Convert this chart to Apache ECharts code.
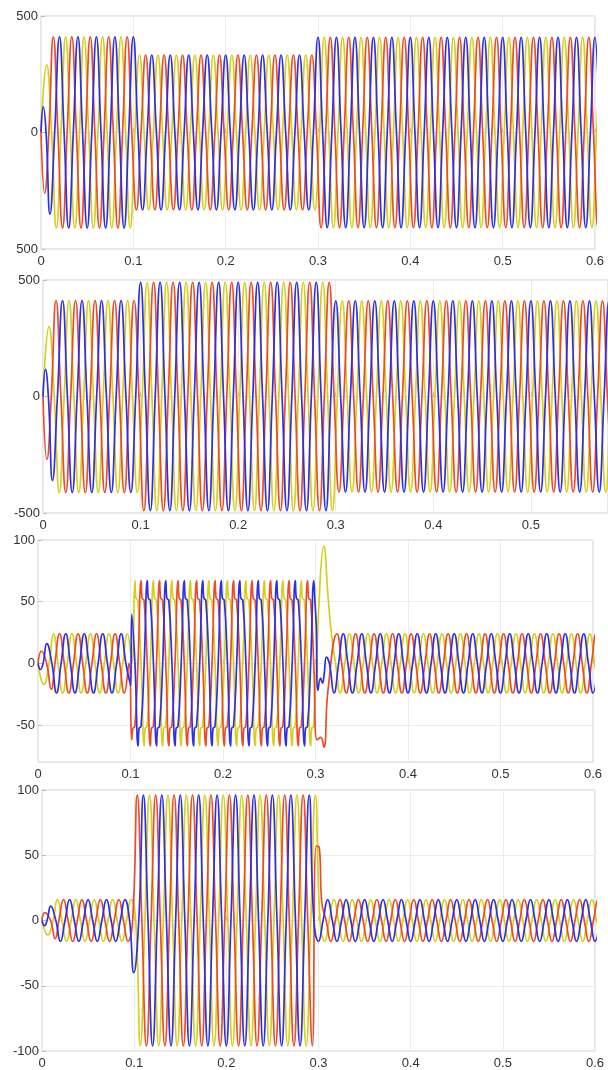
<!DOCTYPE html>
<html><head><meta charset="utf-8">
<script src="https://cdn.jsdelivr.net/npm/echarts@6/dist/echarts.min.js"></script>
<style>html,body{margin:0;padding:0;background:#fff}#c{width:608px;height:1070px}</style>
</head><body><div id="c"></div>
<script>
// ---------- data ----------
const PERIOD = 0.02;                       // 50 Hz supply
const phaseNames  = ['red', 'yellow', 'blue'];
const phaseColors = ['#ea4d2c', '#d6cf1f', '#2f2fe4'];

// waveform shapes: [fraction of period after the positive peak, value factor]
const sineShape = [[0, 1], [0.25, 0], [0.5, -1], [0.75, 0]];
// flat-topped current (panel 3, 0.1-0.3 s), absolute values
const flatShape = [[0, 67], [0.05, 53], [0.16, 51], [0.33, 0], [0.5, -67], [0.55, -53], [0.66, -51], [0.83, 0]];

// segments per phase [red, yellow, blue]: [from, to, amplitude, positive-peak time mod period, shape]
const p1Seg = [
  [[0, 0.1005, 410, 0.01333, 's'], [0.1005, 0.2993, 332, 0.01333, 's'], [0.2993, 9, 408, 0.01333, 's']],
  [[0, 0.1005, 410, 0.00667, 's'], [0.1005, 0.2993, 332, 0.00667, 's'], [0.2993, 9, 408, 0.00667, 's']],
  [[0, 0.1005, 410, 0.0,     's'], [0.1005, 0.2993, 332, 0.0,     's'], [0.2993, 9, 408, 0.0,     's']]
];
const p2Seg = [
  [[0, 0.0985, 412, 0.01333, 's'], [0.0985, 0.2993, 490, 0.01333, 's'], [0.2993, 9, 410, 0.01333, 's']],
  [[0, 0.0985, 412, 0.00667, 's'], [0.0985, 0.2993, 490, 0.00667, 's'], [0.2993, 9, 410, 0.00667, 's']],
  [[0, 0.0985, 412, 0.0,     's'], [0.0985, 0.2993, 490, 0.0,     's'], [0.2993, 9, 410, 0.0,     's']]
];
const p3Seg = [
  [[0, 0.1, 24, 0.00333, 's'], [0.1, 0.3, 1, 0.0115, 'f'], [0.3, 9, 24, 0.00333, 's']],
  [[0, 0.1, 24, 0.01667, 's'], [0.1, 0.3, 1, 0.0048, 'f'], [0.3, 9, 24, 0.01667, 's']],
  [[0, 0.1, 24, 0.01,    's'], [0.1, 0.3, 1, 0.0182, 'f'], [0.3, 9, 24, 0.01,    's']]
];
const p4Seg = [
  [[0, 0.1, 16, 0.00333, 's'], [0.1, 0.3, 96, 0.00333, 's'], [0.3, 9, 16, 0.00333, 's']],
  [[0, 0.1, 16, 0.01667, 's'], [0.1, 0.3, 96, 0.01667, 's'], [0.3, 9, 16, 0.01667, 's']],
  [[0, 0.1, 16, 0.01,    's'], [0.1, 0.3, 96, 0.01,    's'], [0.3, 9, 16, 0.01,    's']]
];

// transients: [from, to, knots [[t, v], ...]] per phase [red, yellow, blue]
const p1Trans = [
  [[0, 0.009, [[0, 0], [0.004, -261], [0.0085, 0]]]],
  [[0, 0.012, [[0, 0], [0.0061, 290], [0.0115, 0]]]],
  [[0, 0.016, [[0, 0], [0.0025, 110], [0.0055, 0], [0.0097, -350], [0.0148, 0]]]]
];
const p2Trans = [
  [[0, 0.009, [[0, 0], [0.004, -270], [0.0085, 0]]]],
  [[0, 0.012, [[0, 0], [0.0061, 300], [0.0115, 0]]]],
  [[0, 0.016, [[0, 0], [0.0025, 116], [0.0055, 0], [0.0097, -360], [0.0148, 0]]]]
];
const p3Trans = [
  [[0, 0.015, [[0, 0], [0.0038, 10], [0.0093, 0], [0.0143, -21]]],
   [0.1, 0.1015, [[0.1013, -62]]],
   [0.3, 0.3185, [[0.3017, -62], [0.3055, -60], [0.309, -68], [0.3135, -22]]]],
  [[0, 0.013, [[0, 0], [0.0062, -17], [0.012, 0]]],
   [0.3, 0.318, [[0.305, 67], [0.309, 95], [0.3135, 55], [0.3175, 22]]]],
  [[0, 0.012, [[0, 0], [0.0027, -5], [0.0055, 0], [0.0095, 16]]],
   [0.1, 0.1015, [[0.1003, -18], [0.1013, 40]]],
   [0.3, 0.3148, [[0.3008, 30], [0.3027, -22], [0.3055, -12], [0.3075, -16], [0.3095, -8], [0.3118, 5]]]]
];
const p4Trans = [
  [[0, 0.015, [[0, 0], [0.003, 6], [0.0093, 0], [0.0143, -14]]],
   [0.2965, 0.3045, [[0.2975, 57], [0.3008, 56], [0.3035, 14]]]],
  [[0, 0.013, [[0, 0], [0.0062, -11], [0.012, 0]]]],
  [[0, 0.012, [[0, 0], [0.0027, -4], [0.0055, 0], [0.0095, 11]]],
   [0.0995, 0.1005, [[0.0995, -40]]]]
];

// axis extents and tick labels
const xMax = [0.6, 0.577, 0.6, 0.6];
const yMin = [-500, -500, -80, -100];
const yMax = [500, 500, 100, 100];
const xTicks = [0, 0.1, 0.2, 0.3, 0.4, 0.5, 0.6];
const xTickLabels = ['0', '0.1', '0.2', '0.3', '0.4', '0.5', '0.6'];
const p1YTicks = [-500, 0, 500], p1YLabels = ['500', '0', '500'];
const p2YTicks = [-500, 0, 500], p2YLabels = ['-500', '0', '500'];
const p3YTicks = [-50, 0, 50, 100], p3YLabels = ['-50', '0', '50', '100'];
const p4YTicks = [-100, -50, 0, 50, 100], p4YLabels = ['-100', '-50', '0', '50', '100'];

// ---------- building knots ----------
const shapes = {s: sineShape, f: flatShape};
function segKnots(seg, tEnd) {
  const [a, b0, amp, tp, sh] = seg;
  const b = Math.min(b0, tEnd);
  const pts = [];
  const c0 = Math.floor((a - tp) / PERIOD) - 1, c1 = Math.ceil((b - tp) / PERIOD) + 1;
  for (let c = c0; c <= c1; c++) {
    for (const k of shapes[sh]) {
      const t = tp + (c + k[0]) * PERIOD;
      if (t >= a - 1e-9 && t < b - 1e-9) pts.push([t, k[1] * amp]);
    }
  }
  return pts;
}
function knots(segs, trans, tMax) {
  let pts = [];
  segs.forEach(s => pts = pts.concat(segKnots(s, tMax + PERIOD / 2)));
  pts = pts.filter(p => !trans.some(w => p[0] >= w[0] && p[0] <= w[1]));
  trans.forEach(w => w[2].forEach(p => pts.push(p.slice())));
  pts.sort((x, y) => x[0] - y[0]);
  return pts;
}

const panels = [
  {seg: p1Seg, trans: p1Trans, yt: p1YTicks, yl: p1YLabels},
  {seg: p2Seg, trans: p2Trans, yt: p2YTicks, yl: p2YLabels},
  {seg: p3Seg, trans: p3Trans, yt: p3YTicks, yl: p3YLabels},
  {seg: p4Seg, trans: p4Trans, yt: p4YTicks, yl: p4YLabels}
];

// ---------- layout ----------
const grids = [
  {left: 41, top: 16, width: 554, height: 233},
  {left: 43, top: 280, width: 567, height: 233},
  {left: 38, top: 540, width: 555, height: 222},
  {left: 42, top: 790, width: 553, height: 263}
];
const font = {fontFamily: 'Liberation Sans, Arial, sans-serif', fontSize: 13, color: '#333'};
const lab = (vals, labels) => v => { const i = vals.findIndex(x => Math.abs(x - v) < 1e-6); return i < 0 ? '' : labels[i]; };

const option = {
  animation: false,
  backgroundColor: '#fff',
  grid: grids.map(g => Object.assign({show: true, borderColor: '#cfcfcf', borderWidth: 1, backgroundColor: '#fff'}, g)),
  xAxis: grids.map((g, i) => {
    const tv = xTicks.filter(v => v <= xMax[i] + 1e-9);
    return {
      type: 'value', gridIndex: i, min: 0, max: i === 1 ? 0.579 : xMax[i],
      axisLine: {show: false},
      axisTick: {show: true, inside: true, length: 4, customValues: tv, lineStyle: {color: '#bbb'}},
      splitLine: {show: true, lineStyle: {color: '#ececec'}},
      axisLabel: Object.assign({margin: 6, customValues: tv, formatter: lab(xTicks, xTickLabels)}, font)
    };
  }),
  yAxis: grids.map((g, i) => ({
    type: 'value', gridIndex: i, min: yMin[i], max: yMax[i],
    axisLine: {show: false},
    axisTick: {show: true, inside: true, length: 4, customValues: panels[i].yt, lineStyle: {color: '#bbb'}},
    splitLine: {show: true, lineStyle: {color: '#ececec'}},
    axisLabel: Object.assign({margin: 3, customValues: panels[i].yt, formatter: lab(panels[i].yt, panels[i].yl)}, font)
  })),
  series: []
};

panels.forEach((p, i) => {
  [1, 0, 2].forEach(ph => {
    option.series.push({
      type: 'line', name: phaseNames[ph], xAxisIndex: i, yAxisIndex: i,
      data: knots(p.seg[ph], p.trans[ph], xMax[i]),
      smooth: 0.5, showSymbol: false, symbol: 'none',
      lineStyle: {color: phaseColors[ph], width: 1.7}
    });
  });
});

const chart = echarts.init(document.getElementById('c'), null, {renderer: 'canvas'});
chart.setOption(option);
</script>
</body></html>
